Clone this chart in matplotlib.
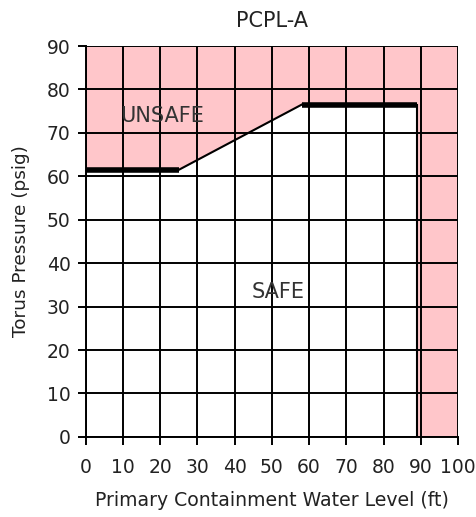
import numpy as np
import matplotlib
matplotlib.use("Agg")
import matplotlib.pyplot as plt

plt.rcParams['font.family'] = ['DejaVu Sans']

# limit curve (ft, psig)
curve_x = [0, 25, 58, 89]
curve_y = [61.5, 61.5, 76.5, 76.5]
level_limit = 89

xticks = list(range(0, 101, 10))
yticks = list(range(0, 91, 10))
pink = '#ffc6ca'

fig = plt.figure(figsize=(4.77, 5.17), dpi=100)
ax = fig.add_axes([0.180, 0.155, 0.780, 0.756])

# unsafe region above the curve and right of the level limit
ax.fill_between([0, 100], [90, 90], [0, 0], color=pink, zorder=0, lw=0)
ax.fill_between(curve_x, curve_y, 0, color='white', zorder=0.5, lw=0)

ax.set_xlim(0, 100)
ax.set_ylim(0, 90)
ax.set_xticks(xticks)
ax.set_yticks(yticks)
ax.grid(True, color='black', lw=1.4, zorder=1)
ax.set_axisbelow(False)
for s in ax.spines.values():
    s.set_visible(False)
ax.spines['left'].set_visible(True)
ax.spines['bottom'].set_visible(True)
ax.spines['left'].set_linewidth(1.4)
ax.spines['bottom'].set_linewidth(1.4)
ax.tick_params(direction='out', length=6, width=1.4, labelsize=13.5,
               labelcolor='#222222')
ax.tick_params(axis='x', pad=9)
ax.tick_params(axis='y', pad=5)

# limit line: thick flats, thin slope, thin vertical
ax.plot(curve_x[:2], curve_y[:2], color='black', lw=4, solid_capstyle='butt', zorder=3)
ax.plot(curve_x[1:3], curve_y[1:3], color='black', lw=1.5, zorder=3)
ax.plot(curve_x[2:4], curve_y[2:4], color='black', lw=4, solid_capstyle='butt', zorder=3)
ax.plot([level_limit, level_limit], [curve_y[-1], 0], color='black', lw=1.5, zorder=3)

ax.text(20.4, 73.9, 'UNSAFE', fontsize=15, ha='center', va='center', color='#333333')
ax.text(51.6, 33.4, 'SAFE', fontsize=15, ha='center', va='center', color='#333333')

ax.set_title('PCPL-A', fontsize=15, pad=14, color='#222222')
ax.set_xlabel('Primary Containment Water Level (ft)', fontsize=13.6, labelpad=10,
              color='#222222')
ax.set_ylabel('Torus Pressure (psig)', fontsize=13.3, labelpad=12, color='#222222')

fig.savefig('out.png', dpi=100)
